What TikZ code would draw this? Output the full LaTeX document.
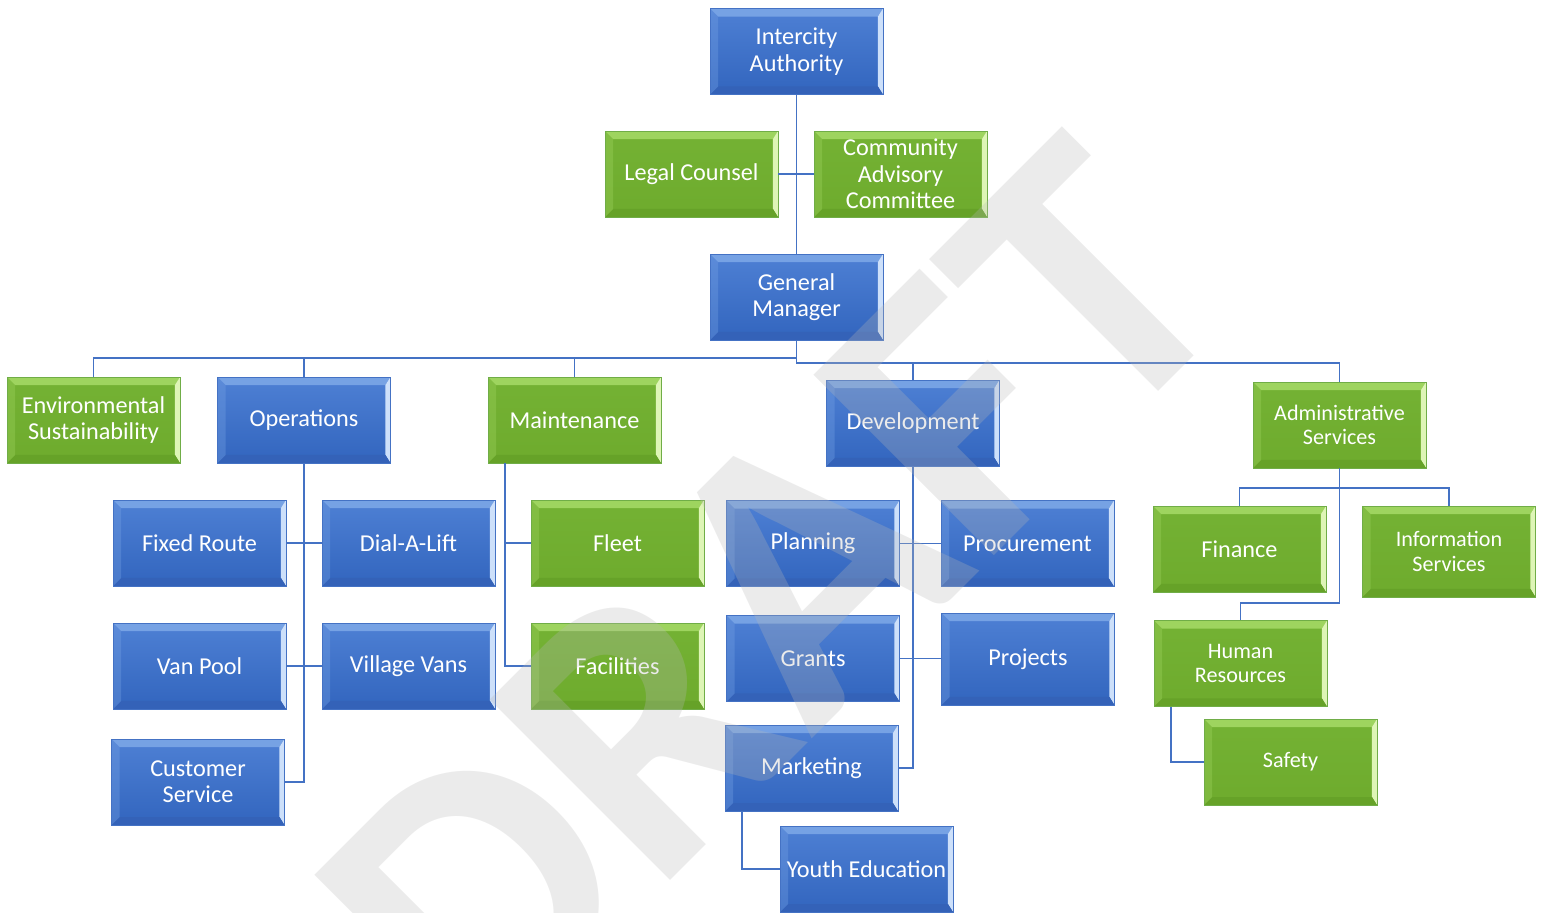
\documentclass[tikz,border=0pt]{standalone}
\usepackage{fontspec}
\setmainfont{Carlito}
\usetikzlibrary{calc}
\definecolor{blueTop}{RGB}{78,128,212}
\definecolor{blueBot}{RGB}{50,101,190}
\definecolor{blueHi}{RGB}{118,162,228}
\definecolor{blueRt}{RGB}{205,224,250}
\definecolor{blueLo}{RGB}{52,98,184}
\definecolor{blueEdge}{RGB}{68,114,196}
\definecolor{greenTop}{RGB}{116,178,52}
\definecolor{greenBot}{RGB}{110,171,45}
\definecolor{greenHi}{RGB}{158,212,95}
\definecolor{greenRt}{RGB}{222,245,182}
\definecolor{greenLo}{RGB}{102,162,40}
\definecolor{greenEdge}{RGB}{112,173,71}
\definecolor{lineBlue}{RGB}{68,114,196}
\definecolor{wmGray}{RGB}{184,184,184}
\newcommand{\boxfont}{\fontsize{13.8}{15}\selectfont}
\newcommand{\smallboxfont}{\fontsize{12.6}{14}\selectfont}
\newcommand{\wmfont}{\fontsize{224}{224}\selectfont\bfseries}
\newcommand{\bevel}[3]{%
  \coordinate (bnw) at (path picture bounding box.north west);
  \coordinate (bne) at (path picture bounding box.north east);
  \coordinate (bsw) at (path picture bounding box.south west);
  \coordinate (bse) at (path picture bounding box.south east);
  \fill[#1] (bnw) -- (bne) -- ([shift={(-0.1cm,-0.16cm)}]bne) -- ([shift={(0.16cm,-0.16cm)}]bnw) -- cycle;
  \fill[#2] (bne) -- (bse) -- ([shift={(-0.1cm,0.16cm)}]bse) -- ([shift={(-0.1cm,-0.16cm)}]bne) -- cycle;
  \fill[#3] (bsw) -- (bse) -- ([shift={(-0.1cm,0.16cm)}]bse) -- ([shift={(0.16cm,0.16cm)}]bsw) -- cycle;
  \fill[#1, opacity=0.35] (bnw) -- (bsw) -- ([shift={(0.16cm,0.16cm)}]bsw) -- ([shift={(0.16cm,-0.16cm)}]bnw) -- cycle;
}
\tikzset{
  unit/.style={rectangle, minimum width=3.46cm, minimum height=1.72cm, inner sep=2pt,
    align=center, text=white, font=\boxfont},
  bluebox/.style={unit, top color=blueTop, bottom color=blueBot, draw=blueEdge, line width=0.4pt,
    path picture={\bevel{blueHi}{blueRt}{blueLo}}},
  greenbox/.style={unit, top color=greenTop, bottom color=greenBot, draw=greenEdge, line width=0.4pt,
    path picture={\bevel{greenHi}{greenRt}{greenLo}}},
  smalltext/.style={font=\smallboxfont},
  link/.style={draw=lineBlue, line width=1.1pt},
  wmark/.style={rotate=45, inner sep=0pt, text=wmGray, text opacity=0.28, font=\wmfont},
}
\begin{document}
\begin{tikzpicture}[x=0.02cm, y=-0.02cm]
  \useasboundingbox (0,0) rectangle (1543,913);

  \node[bluebox] (ica) at (796.5,51.5) {Intercity\\Authority};
  \node[greenbox] (legal) at (691.5,174) {Legal Counsel};
  \node[greenbox] (cac) at (900.5,174) {Community\\Advisory\\Committee};
  \node[bluebox] (gm) at (796.5,297) {General\\Manager};

  \node[greenbox] (env) at (93.5,420) {Environmental\\Sustainability};
  \node[bluebox] (ops) at (304,420) {Operations};
  \node[greenbox] (maint) at (574.5,420) {Maintenance};
  \node[bluebox] (dev) at (913,423) {Development};
  \node[greenbox, smalltext] (admin) at (1339.5,425) {Administrative\\Services};

  \node[bluebox] (fixed) at (199.5,543) {Fixed Route};
  \node[bluebox] (dial) at (408.5,543) {Dial-A-Lift};
  \node[bluebox] (vanpool) at (199.5,666) {Van Pool};
  \node[bluebox] (vans) at (408.5,666) {Village Vans};
  \node[bluebox] (cs) at (198,782) {Customer\\Service};

  \node[greenbox] (fleet) at (617.5,543) {Fleet};
  \node[greenbox] (facil) at (617.5,666) {Facilities};

  \node[bluebox] (plan) at (813,543.5) {Planning};
  \node[bluebox] (proc) at (1027.5,543.5) {Procurement};
  \node[bluebox] (grants) at (813,658.5) {Grants};
  \node[bluebox, minimum height=1.84cm] (proj) at (1028,659) {Projects};
  \node[bluebox] (mkt) at (811.5,768) {Marketing};
  \node[bluebox] (youth) at (866.5,869) {Youth Education};

  \node[greenbox] (fin) at (1239.5,549) {Finance};
  \node[greenbox, smalltext, minimum height=1.82cm] (info) at (1449,551.5) {Information\\Services};
  \node[greenbox, smalltext] (hr) at (1240.5,663.5) {Human\\Resources};
  \node[greenbox, smalltext] (safety) at (1290.5,762) {Safety};

  \begin{scope}[link]
    \draw (ica) -- (gm);
    \draw (legal) -- (cac);
    \draw (gm.south) -- ++(0,18) -| (env.north);
    \draw (gm.south) -- ++(0,18) -| (ops.north);
    \draw (gm.south) -- ++(0,18) -| (maint.north);
    \draw (gm.south) -- ++(0,23) -| (dev.north);
    \draw (gm.south) -- ++(0,23) -| (admin.north);
    \draw (ops.south) |- (cs.east);
    \draw (fixed) -- (dial);
    \draw (vanpool) -- (vans);
    \draw (maint.south west) ++(17,0) |- (fleet.west);
    \draw (maint.south west) ++(17,0) |- (facil.west);
    \draw (dev.south) |- (mkt.east);
    \draw (plan) -- (proc);
    \draw (grants.east) -- (grants.east -| proj.west);
    \draw (mkt.south west) ++(17,0) |- (youth.west);
    \draw (admin.south) -- ++(0,20) -| (fin.north);
    \draw (admin.south) -- ++(0,20) -| (info.north);
    \draw (admin.south) -- ++(0,135) -| (hr.north);
    \draw (hr.south west) ++(17,0) |- (safety.west);
  \end{scope}

  \node[wmark] (draft) at (772,598) {DRAFT};
\end{tikzpicture}
\end{document}
